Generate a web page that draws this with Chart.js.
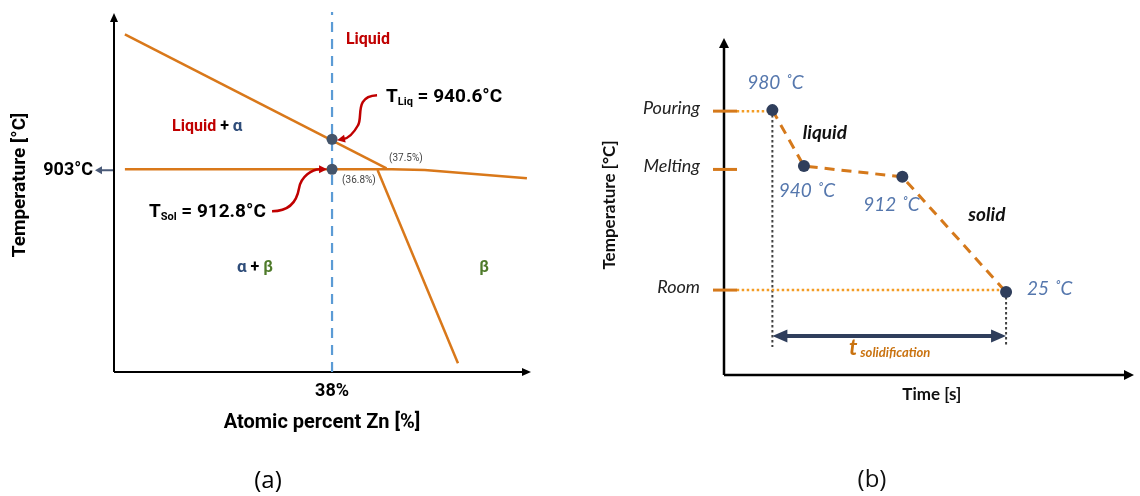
<!DOCTYPE html>
<html>
<head>
<meta charset="utf-8">
<script src="https://cdn.jsdelivr.net/npm/chart.js@4.4.1/dist/chart.umd.min.js"></script>
<style>
  body { margin: 0; background: #fff; }
  #wrap { display: flex; width: 1140px; height: 496px; }
  canvas { display: block; }
</style>
</head>
<body>
<div id="wrap">
  <canvas id="phase" width="570" height="496"></canvas>
  <canvas id="cooling" width="570" height="496"></canvas>
</div>
<script>
// (a) diagrama de fases (esquemático), x = % atómico Zn, y = °C
const liqX = [30.4, 40.0];
const liqY = [1072, 904];
const solX = [30.4, 40.2, 41.4, 45.15];
const solY = [903, 903, 902, 891.7];
const betaX = [39.67, 42.62];
const betaY = [902, 660];
const compX = [38, 38];
const compY = [649, 1100];
const dotX = [38, 38];
const dotY = [940.6, 903];
const eutectic = 903;

// (b) curva de enfriamiento (unidades relativas)
const tiempo = [11.8, 19.5, 43.5, 68.8];
const temp = [78.6, 62.0, 58.8, 24.6];
const tempLabels = ['980 ˚C', '940 ˚C', '912 ˚C', '25 ˚C'];
const tickNames = ['Pouring', 'Melting', 'Room'];
const tickVals = [78.3, 61.0, 25.2];
const tSolidY = 8.3;
const arrowY = 11.6;

const xy = (xs, ys) => xs.map((v, i) => ({ x: v, y: ys[i] }));

function line(ctx, x1, y1, x2, y2) {
  ctx.beginPath(); ctx.moveTo(x1, y1); ctx.lineTo(x2, y2); ctx.stroke();
}
function head(ctx, x, y, ang, len, half) {
  ctx.save();
  ctx.translate(x, y); ctx.rotate(ang);
  ctx.beginPath(); ctx.moveTo(0, 0); ctx.lineTo(-len, -half); ctx.lineTo(-len, half); ctx.closePath();
  ctx.fill();
  ctx.restore();
}
// texto con partes de distinto estilo
function rich(ctx, x, y, parts, align) {
  let w = 0;
  parts.forEach(p => { ctx.font = p.font; w += ctx.measureText(p.t).width; });
  let cx = align === 'center' ? x - w / 2 : align === 'right' ? x - w : x;
  ctx.textAlign = 'left';
  ctx.textBaseline = 'middle';
  parts.forEach(p => {
    ctx.font = p.font; ctx.fillStyle = p.color || '#000';
    ctx.fillText(p.t, cx, y + (p.dy || 0));
    cx += ctx.measureText(p.t).width;
  });
}

const B = 'bold 18px Roboto';
const RED = '#c00000', ALPHA = '#2f4d7a', BETA = '#4e7a2a', ORANGE = '#d9781a';

const phaseDeco = {
  id: 'phaseDeco',
  beforeDatasetsDraw(chart) {
    const { ctx, chartArea: a, scales: { x, y } } = chart;
    const x0 = x.getPixelForValue(30), y0 = y.getPixelForValue(649);
    ctx.save();
    ctx.strokeStyle = '#000'; ctx.fillStyle = '#000'; ctx.lineWidth = 2;
    line(ctx, x0, y0, x0, a.top + 8);
    head(ctx, x0, a.top + 1, -Math.PI / 2, 9, 4);
    line(ctx, x0, y0, a.right - 8, y0);
    head(ctx, a.right, y0, 0, 9, 4);
    ctx.restore();
  },
  afterDatasetsDraw(chart) {
    const { ctx, scales: { x, y } } = chart;
    const x0 = x.getPixelForValue(30), y0 = y.getPixelForValue(649);
    const ye = y.getPixelForValue(eutectic);
    ctx.save();
    // 903°C
    ctx.strokeStyle = '#4a5a78'; ctx.fillStyle = '#4a5a78'; ctx.lineWidth = 2;
    line(ctx, x0 - 1, ye + 1, x0 - 12, ye + 1);
    head(ctx, x0 - 19, ye + 1, Math.PI, 7, 4);
    rich(ctx, x0 - 21, ye + 1, [{ t: '903°C', font: B }], 'right');
    // eje y
    ctx.save();
    ctx.translate(20, 185); ctx.rotate(-Math.PI / 2);
    rich(ctx, 0, 0, [{ t: 'Temperature [°C]', font: 'bold 19px Roboto' }], 'center');
    ctx.restore();
    const xc = x.getPixelForValue(38);
    rich(ctx, xc, y0 + 19, [{ t: '38%', font: B }], 'center');
    rich(ctx, xc - 10, y0 + 51, [{ t: 'Atomic percent Zn [%]', font: 'bold 20px Roboto' }], 'center');
    rich(ctx, 268, 481, [{ t: '(a)', font: '24px "Open Sans"' }], 'center');
    // regiones
    const P = (vx, vy) => [x.getPixelForValue(vx), y.getPixelForValue(vy)];
    let p = P(39.32, 1065);
    rich(ctx, p[0], p[1], [{ t: 'Liquid', font: 'bold 16px Roboto', color: RED }], 'center');
    p = P(32.13, 956);
    rich(ctx, p[0], p[1], [
      { t: 'Liquid', font: 'bold 16px Roboto', color: RED },
      { t: ' + ', font: 'bold 16px Roboto', color: '#000' },
      { t: 'α', font: 'bold 17px Roboto', color: ALPHA }], 'left');
    p = P(34.51, 779);
    rich(ctx, p[0], p[1], [
      { t: 'α', font: 'bold 17px Roboto', color: ALPHA },
      { t: ' + ', font: 'bold 16px Roboto', color: '#000' },
      { t: 'β', font: 'bold 16px Roboto', color: BETA }], 'left');
    p = P(43.58, 779);
    rich(ctx, p[0], p[1], [{ t: 'β', font: 'bold 16px Roboto', color: BETA }], 'center');
    p = P(39.98, 993.5);
    rich(ctx, p[0], p[1], [
      { t: 'T', font: 'bold 19px Roboto' },
      { t: 'Liq', font: 'bold 11px Roboto', dy: 5 },
      { t: ' = 940.6°C', font: 'bold 19px Roboto' }], 'left');
    p = P(31.28, 849.4);
    rich(ctx, p[0], p[1], [
      { t: 'T', font: 'bold 19px Roboto' },
      { t: 'Sol', font: 'bold 11px Roboto', dy: 5 },
      { t: ' = 912.8°C', font: 'bold 19px Roboto' }], 'left');
    p = P(40.09, 917);
    rich(ctx, p[0], p[1], [{ t: '(37.5%)', font: '10px Roboto', color: '#444' }], 'left');
    p = P(38.37, 889.5);
    rich(ctx, p[0], p[1], [{ t: '(36.8%)', font: '10px Roboto', color: '#444' }], 'left');
    // flechas rojas
    const d1 = P(dotX[0], dotY[0]), d2 = P(dotX[1], dotY[1]);
    ctx.strokeStyle = RED; ctx.fillStyle = RED; ctx.lineWidth = 2.5;
    ctx.beginPath();
    ctx.moveTo(d1[0] + 45, d1[1] - 44);
    ctx.bezierCurveTo(d1[0] + 22, d1[1] - 43, d1[0] + 31, d1[1] - 22, d1[0] + 26, d1[1] - 14);
    ctx.bezierCurveTo(d1[0] + 21, d1[1] - 5, d1[0] + 16, d1[1] - 1, d1[0] + 11, d1[1]);
    ctx.stroke();
    head(ctx, d1[0] + 5, d1[1] + 1, Math.PI - 0.2, 8, 4);
    ctx.beginPath();
    ctx.moveTo(d2[0] - 60, d2[1] + 42);
    ctx.bezierCurveTo(d2[0] - 42, d2[1] + 42, d2[0] - 35, d2[1] + 31, d2[0] - 33, d2[1] + 19);
    ctx.bezierCurveTo(d2[0] - 31, d2[1] + 7, d2[0] - 20, d2[1], d2[0] - 12, d2[1]);
    ctx.stroke();
    head(ctx, d2[0] - 5, d2[1], 0, 8, 4);
    ctx.restore();
  }
};

new Chart(document.getElementById('phase'), {
  type: 'scatter',
  data: {
    datasets: [
      { data: xy(dotX, dotY), pointRadius: 5.5, backgroundColor: '#44546a', borderWidth: 0 },
      { data: xy(liqX, liqY), showLine: true, borderColor: ORANGE, borderWidth: 2.5, pointRadius: 0 },
      { data: xy(solX, solY), showLine: true, borderColor: ORANGE, borderWidth: 2.5, pointRadius: 0 },
      { data: xy(betaX, betaY), showLine: true, borderColor: ORANGE, borderWidth: 2.5, pointRadius: 0 },
      { data: xy(compX, compY), showLine: true, borderColor: '#5b9bd5', borderWidth: 2.2, borderDash: [10, 7], pointRadius: 0 }
    ]
  },
  options: {
    responsive: false, animation: false, devicePixelRatio: 1, events: [],
    layout: { padding: { left: 114, right: 39, top: 12, bottom: 124 } },
    plugins: { legend: { display: false }, tooltip: { enabled: false } },
    scales: {
      x: { type: 'linear', min: 30, max: 45.3, display: false },
      y: { type: 'linear', min: 649, max: 1100, display: false }
    }
  },
  plugins: [phaseDeco]
});

const BLUE = '#5577ad', NAVY = '#2f3e5c', ORANGE2 = '#d5791b', DOT = '#f39c24';
const labelOff = [[3, -27, 'center'], [3, 25, 'center'], [-11, 28, 'center'], [21, -3, 'left']];

const coolDeco = {
  id: 'coolDeco',
  beforeDatasetsDraw(chart) {
    const { ctx, chartArea: a, scales: { x, y } } = chart;
    const x0 = x.getPixelForValue(0), y0 = y.getPixelForValue(0);
    ctx.save();
    ctx.strokeStyle = '#000'; ctx.fillStyle = '#000'; ctx.lineWidth = 2.5;
    line(ctx, x0, y0, x0, a.top + 8);
    head(ctx, x0, a.top, -Math.PI / 2, 10, 5);
    line(ctx, x0, y0, a.right - 8, y0);
    head(ctx, a.right, y0, 0, 10, 5);
    ctx.restore();
  },
  afterDatasetsDraw(chart) {
    const { ctx, scales: { x, y } } = chart;
    const x0 = x.getPixelForValue(0), y0 = y.getPixelForValue(0);
    ctx.save();
    // marcas del eje y
    ctx.strokeStyle = ORANGE2; ctx.lineWidth = 3;
    tickVals.forEach((v, i) => {
      const py = y.getPixelForValue(v);
      line(ctx, x0 - 11, py, x0 + 13, py);
      rich(ctx, x0 - 24, py - 3, [{ t: tickNames[i], font: 'italic 18px Lato', color: '#222' }], 'right');
    });
    // etiquetas de temperatura
    tiempo.forEach((t, i) => {
      const px = x.getPixelForValue(t), py = y.getPixelForValue(temp[i]);
      const o = labelOff[i];
      rich(ctx, px + o[0], py + o[1], [{ t: tempLabels[i], font: 'italic 19px Lato', color: BLUE }], o[2]);
    });
    rich(ctx, x.getPixelForValue(19.2), y.getPixelForValue(71.8), [{ t: 'liquid', font: 'italic bold 19px Lato', color: '#111' }], 'left');
    rich(ctx, x.getPixelForValue(59.6), y.getPixelForValue(47.5), [{ t: 'solid', font: 'italic bold 19px Lato', color: '#111' }], 'left');
    // tiempo de solidificación
    const xa = x.getPixelForValue(tiempo[0]), xb = x.getPixelForValue(tiempo[3]);
    const ya = y.getPixelForValue(arrowY);
    ctx.strokeStyle = NAVY; ctx.fillStyle = NAVY; ctx.lineWidth = 4;
    line(ctx, xa + 10, ya, xb - 10, ya);
    head(ctx, xa, ya, Math.PI, 15, 6.5);
    head(ctx, xb, ya, 0, 15, 6.5);
    rich(ctx, x.getPixelForValue(30.5), ya + 12, [
      { t: 't', font: 'italic bold 23px Lato', color: '#c9720f' },
      { t: ' solidification', font: 'italic bold 13px Lato', color: '#c9720f', dy: 5 }], 'left');
    rich(ctx, x.getPixelForValue(50.7), y0 + 20, [{ t: 'Time [s]', font: 'bold 17px Lato', color: '#111' }], 'center');
    ctx.save();
    ctx.translate(40, 205); ctx.rotate(-Math.PI / 2);
    rich(ctx, 0, 0, [{ t: 'Temperature [°C]', font: 'bold 17px Lato', color: '#111' }], 'center');
    ctx.restore();
    rich(ctx, 302, 480, [{ t: '(b)', font: '24px "Open Sans"', color: '#111' }], 'center');
    ctx.restore();
  }
};

const dotted = { showLine: true, pointRadius: 0, borderWidth: 2.5, borderDash: [2.5, 2.5] };
new Chart(document.getElementById('cooling'), {
  type: 'scatter',
  data: {
    datasets: [
      { data: xy(tiempo, temp), showLine: true, borderColor: ORANGE2, borderWidth: 3, borderDash: [10, 7],
        pointRadius: 6, pointBackgroundColor: NAVY, pointBorderWidth: 0 },
      { ...dotted, data: xy([3.1, tiempo[0]], [tickVals[0], tickVals[0]]), borderColor: DOT },
      { ...dotted, data: xy([3.1, tiempo[3]], [tickVals[2], tickVals[2]]), borderColor: DOT },
      { ...dotted, data: xy([tiempo[0], tiempo[0]], [temp[0], tSolidY]), borderColor: '#404040', borderWidth: 2 },
      { ...dotted, data: xy([tiempo[3], tiempo[3]], [temp[3], tSolidY]), borderColor: '#404040', borderWidth: 2 }
    ]
  },
  options: {
    responsive: false, animation: false, devicePixelRatio: 1, events: [],
    layout: { padding: { left: 154, right: 0, top: 38, bottom: 121 } },
    plugins: { legend: { display: false }, tooltip: { enabled: false } },
    scales: {
      x: { type: 'linear', min: 0, max: 100, display: false },
      y: { type: 'linear', min: 0, max: 100, display: false }
    }
  },
  plugins: [coolDeco]
});
</script>
</body>
</html>
